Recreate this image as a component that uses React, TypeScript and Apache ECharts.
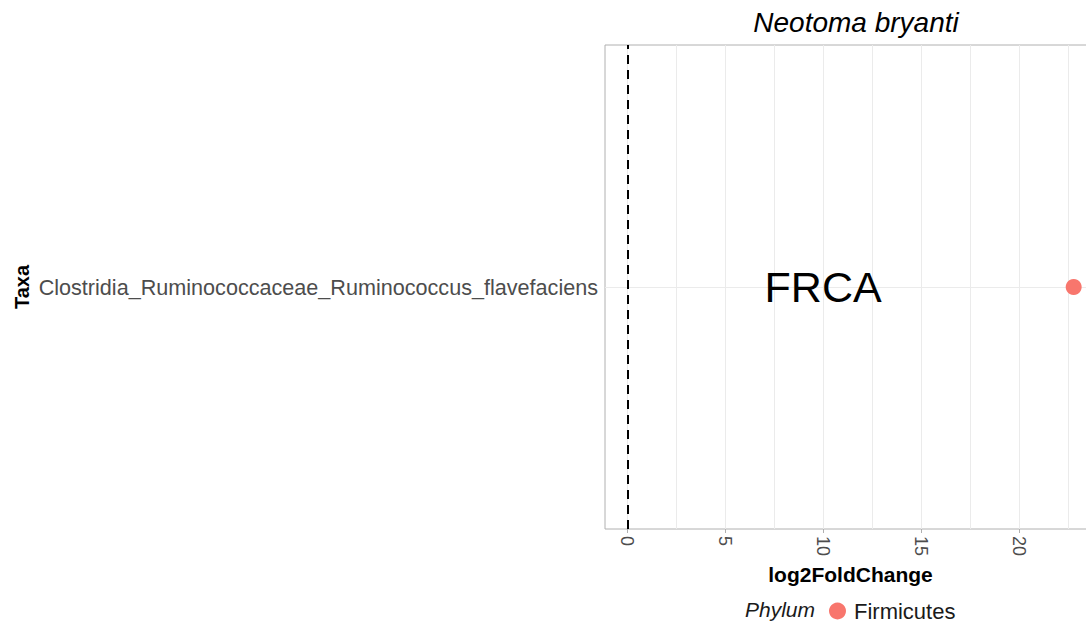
import React, { useEffect, useRef } from "react";
import * as echarts from "echarts";

// Differential abundance result for one host species
const taxa = ["Clostridia_Ruminococcaceae_Ruminococcus_flavefaciens"];
const log2FoldChange = [22.8];
const phylum = ["Firmicutes"];
const annotation = { text: "FRCA", x: 10 };

const majorTicks = [0, 5, 10, 15, 20];
const minorTicks = [2.5, 7.5, 12.5, 17.5, 22.5];
const xMin = -1.14;
const xMax = 23.94;

const FONT = "'Liberation Sans', Arial, Helvetica, sans-serif";
const POINT_COLOR = "#F8766D";
const GRID_COLOR = "#ebebeb";

export default function App() {
  const ref = useRef<HTMLDivElement>(null);

  useEffect(() => {
    if (!ref.current) return;
    document.body.style.overflow = "hidden";
    const chart = echarts.init(ref.current, undefined, { renderer: "svg" });

    const gridLines = [...majorTicks, ...minorTicks].map((v) => ({ xAxis: v }));

    chart.setOption({
      animation: false,
      backgroundColor: "#ffffff",
      textStyle: { fontFamily: FONT },
      title: {
        text: "Neotoma bryanti",
        left: 851,
        top: 3,
        textAlign: "center",
        textStyle: {
          fontFamily: FONT,
          fontStyle: "italic",
          fontWeight: "normal",
          fontSize: 28,
          color: "#000000",
        },
      },
      legend: {
        data: [phylum[0]],
        left: 824,
        top: 595,
        icon: "circle",
        itemWidth: 17,
        itemHeight: 17,
        itemGap: 6,
        textStyle: {
          fontFamily: FONT,
          fontSize: 22,
          color: "#1a1a1a",
          padding: [0, 0, 0, 3],
        },
      },
      graphic: [
        {
          type: "text",
          left: 745,
          top: 599,
          style: {
            text: "Phylum",
            fontFamily: FONT,
            fontStyle: "italic",
            fontSize: 21,
            fill: "#1a1a1a",
          },
        },
      ],
      grid: {
        left: 605,
        top: 45,
        width: 491,
        height: 484,
        show: true,
        borderColor: "#b0b0b0",
        borderWidth: 1,
        backgroundColor: "#ffffff",
      },
      xAxis: {
        type: "value",
        min: xMin,
        max: xMax,
        axisLine: { show: false },
        axisTick: {
          show: true,
          customValues: majorTicks,
          length: 4,
          lineStyle: { color: "#b0b0b0" },
        },
        axisLabel: {
          customValues: majorTicks,
          rotate: -90,
          fontSize: 18,
          color: "#4d4d4d",
          fontFamily: FONT,
          margin: 7,
        },
        splitLine: { show: false },
        name: "log2FoldChange",
        nameLocation: "middle",
        nameGap: 34,
        nameTextStyle: {
          fontFamily: FONT,
          fontWeight: "bold",
          fontSize: 21,
          color: "#000000",
        },
      },
      yAxis: {
        type: "category",
        data: taxa,
        axisLine: { show: false },
        axisTick: {
          show: true,
          alignWithLabel: true,
          length: 4,
          lineStyle: { color: "#b0b0b0" },
        },
        axisLabel: {
          fontSize: 21.6,
          color: "#4d4d4d",
          fontFamily: FONT,
          margin: 7,
        },
        splitLine: { show: false },
        name: "Taxa",
        nameLocation: "middle",
        nameRotate: 90,
        nameGap: 573,
        nameTextStyle: {
          fontFamily: FONT,
          fontWeight: "bold",
          fontSize: 20,
          color: "#000000",
        },
      },
      series: [
        {
          // panel grid lines
          name: "grid",
          type: "line",
          data: [],
          silent: true,
          z: 1,
          markLine: {
            silent: true,
            symbol: ["none", "none"],
            label: { show: false },
            lineStyle: { color: GRID_COLOR, width: 1, type: "solid" },
            data: [...gridLines, ...taxa.map((t) => ({ yAxis: t }))],
          },
        },
        {
          name: phylum[0],
          type: "scatter",
          symbol: "circle",
          symbolSize: 16,
          itemStyle: { color: POINT_COLOR, opacity: 1 },
          z: 5,
          data: taxa.map((t, i) => [log2FoldChange[i], t]),
          markLine: {
            silent: true,
            symbol: ["none", "none"],
            label: { show: false },
            lineStyle: { color: "#000000", width: 2, type: [9, 6] },
            data: [{ xAxis: 0 }],
          },
        },
        {
          name: "annotation",
          type: "scatter",
          symbolSize: 0,
          silent: true,
          z: 6,
          data: [[annotation.x, taxa[0]]],
          label: {
            show: true,
            position: "inside",
            formatter: annotation.text,
            fontFamily: FONT,
            fontSize: 43,
            color: "#000000",
            textBorderWidth: 0,
            opacity: 1,
          },
        },
      ],
    });

    return () => chart.dispose();
  }, []);

  return (
    <div
      ref={ref}
      style={{ position: "fixed", left: 0, top: 0, width: 1110, height: 623 }}
    />
  );
}
